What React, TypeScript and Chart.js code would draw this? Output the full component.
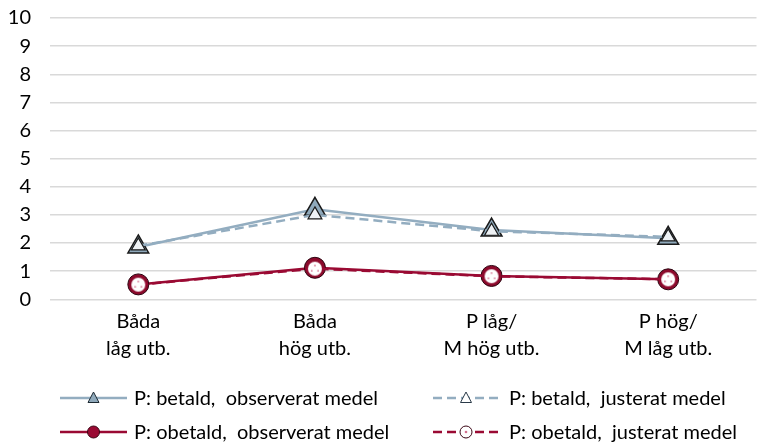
import React, { useEffect, useRef } from 'react';
import { Chart, registerables } from 'chart.js';

Chart.register(...registerables);

const categories: string[][] = [
  ['Båda', 'låg utb.'],
  ['Båda', 'hög utb.'],
  ['P låg/', 'M hög utb.'],
  ['P hög/', 'M låg utb.'],
];
const paidObserved = [1.86, 3.2, 2.46, 2.17];
const paidAdjusted = [1.9, 3.0, 2.42, 2.22];
const unpaidObserved = [0.53, 1.12, 0.83, 0.71];
const unpaidAdjusted = [0.52, 1.09, 0.82, 0.71];
const seriesLabels = [
  'P: betald,  observerat medel',
  'P: betald,  justerat medel',
  'P: obetald,  observerat medel',
  'P: obetald,  justerat medel',
];
const yMin = 0;
const yMax = 10;
const yStep = 1;

const FONT = 'Lato';
const BLUE = '#93adc0';
const RED = '#9a0a33';
const DASH = [9, 5];

function makeDotCircle(r: number): HTMLCanvasElement {
  const c = document.createElement('canvas');
  const s = Math.ceil(r * 2 + 2);
  c.width = s;
  c.height = s;
  const ctx = c.getContext('2d')!;
  const cx = s / 2;
  ctx.beginPath();
  ctx.arc(cx, cx, r, 0, Math.PI * 2);
  ctx.fillStyle = '#ffffff';
  ctx.fill();
  ctx.fillStyle = '#d4708f';
  const dots = [
    [0, -r * 0.45],
    [-r * 0.45, r * 0.3],
    [r * 0.45, r * 0.3],
  ];
  for (const [dx, dy] of dots) {
    ctx.beginPath();
    ctx.arc(cx + dx, cx + dy, Math.max(0.9, r * 0.13), 0, Math.PI * 2);
    ctx.fill();
  }
  return c;
}

const legendPlugin = {
  id: 'customLegend',
  afterDraw(chart: any) {
    const ctx = chart.ctx as CanvasRenderingContext2D;
    const cols = [
      { x0: 60, x1: 127, mx: 93.5, tx: 134 },
      { x0: 433, x1: 499, mx: 466, tx: 509 },
    ];
    const rows = [398, 432];
    const items = [
      { col: 0, row: 0, ds: 0 },
      { col: 1, row: 0, ds: 1 },
      { col: 0, row: 1, ds: 2 },
      { col: 1, row: 1, ds: 3 },
    ];
    ctx.save();
    for (const it of items) {
      const c = cols[it.col];
      const y = rows[it.row];
      const ds = chart.data.datasets[it.ds];
      ctx.strokeStyle = ds.borderColor;
      ctx.lineWidth = 2.5;
      ctx.setLineDash(ds.borderDash || []);
      ctx.beginPath();
      ctx.moveTo(c.x0, y);
      ctx.lineTo(c.x1, y);
      ctx.stroke();
      ctx.setLineDash([]);
      if (it.ds === 0 || it.ds === 1) {
        const h = 10;
        ctx.beginPath();
        ctx.moveTo(c.mx, y - h * 0.6);
        ctx.lineTo(c.mx + h * 0.55, y + h * 0.45);
        ctx.lineTo(c.mx - h * 0.55, y + h * 0.45);
        ctx.closePath();
        ctx.fillStyle = it.ds === 0 ? '#8fa9bb' : '#ffffff';
        ctx.fill();
        ctx.lineWidth = 1;
        ctx.strokeStyle = it.ds === 0 ? '#1d2a33' : '#2a3a48';
        ctx.stroke();
      } else if (it.ds === 2) {
        ctx.beginPath();
        ctx.arc(c.mx, y, 6, 0, Math.PI * 2);
        ctx.fillStyle = RED;
        ctx.fill();
        ctx.lineWidth = 1;
        ctx.strokeStyle = '#3a0514';
        ctx.stroke();
      } else {
        ctx.beginPath();
        ctx.arc(c.mx, y, 6, 0, Math.PI * 2);
        ctx.fillStyle = '#ffffff';
        ctx.fill();
        ctx.lineWidth = 1;
        ctx.strokeStyle = '#3a0514';
        ctx.stroke();
        ctx.beginPath();
        ctx.arc(c.mx, y, 1.3, 0, Math.PI * 2);
        ctx.fillStyle = '#d4708f';
        ctx.fill();
      }
      ctx.fillStyle = '#000000';
      ctx.font = `20px ${FONT}`;
      ctx.textBaseline = 'middle';
      ctx.textAlign = 'left';
      ctx.fillText(ds.label, c.tx, y + 1);
    }
    ctx.restore();
  },
};

export default function App() {
  const ref = useRef<HTMLCanvasElement | null>(null);
  useEffect(() => {
    if (!ref.current) return;
    const dotCircle = makeDotCircle(7);
    const chart = new Chart(ref.current, {
      type: 'line',
      data: {
        labels: categories,
        datasets: [
          {
            label: seriesLabels[0],
            data: paidObserved,
            borderColor: BLUE,
            borderWidth: 2.5,
            pointStyle: 'triangle',
            pointRadius: 12,
            pointBackgroundColor: '#8fa9bb',
            pointBorderColor: '#1b1b1b',
            pointBorderWidth: 1.5,
            order: 2,
          },
          {
            label: seriesLabels[1],
            data: paidAdjusted,
            borderColor: BLUE,
            borderWidth: 2.5,
            borderDash: DASH,
            pointStyle: 'triangle',
            pointRadius: 8,
            pointBackgroundColor: '#eef2f5',
            pointBorderColor: '#1b1b1b',
            pointBorderWidth: 1.2,
            order: 1,
          },
          {
            label: seriesLabels[2],
            data: unpaidObserved,
            borderColor: RED,
            borderWidth: 2.5,
            pointStyle: 'circle',
            pointRadius: 10.5,
            pointBackgroundColor: '#8c0a2c',
            pointBorderColor: '#2b0510',
            pointBorderWidth: 1,
            order: 4,
          },
          {
            label: seriesLabels[3],
            data: unpaidAdjusted,
            borderColor: RED,
            borderWidth: 2.5,
            borderDash: DASH,
            pointStyle: dotCircle as any,
            pointRadius: 7,
            order: 3,
          },
        ],
      },
      options: {
        responsive: false,
        animation: false,
        layout: { padding: { top: 18, right: 0, bottom: 0, left: 0 } },
        plugins: {
          legend: { display: false },
          tooltip: { enabled: false },
        },
        scales: {
          x: {
            offset: true,
            grid: { display: false, drawTicks: false },
            border: { display: false },
            ticks: {
              color: '#000000',
              font: { family: FONT, size: 20, lineHeight: 1.35 },
              padding: 9,
              maxRotation: 0,
            },
            afterFit(scale: any) {
              scale.height = 444 - 299.3;
            },
          },
          y: {
            min: yMin,
            max: yMax,
            grid: {
              color: '#d9d9d9',
              lineWidth: 1.5,
              drawTicks: true,
              tickLength: 19,
              tickColor: 'rgba(0,0,0,0)',
            },
            border: { display: false },
            ticks: {
              stepSize: yStep,
              autoSkip: false,
              color: '#000000',
              font: { family: FONT, size: 20 },
              padding: 0,
            },
            afterFit(scale: any) {
              scale.width = 50;
            },
          },
        },
      },
      plugins: [legendPlugin],
    });
    return () => chart.destroy();
  }, []);
  return (
    <div
      style={{
        position: 'fixed',
        left: 0,
        top: 0,
        width: 762,
        height: 444,
        overflow: 'hidden',
        background: '#fff',
      }}
    >
      <canvas ref={ref} width={770} height={444} style={{ width: 770, height: 444, display: 'block' }} />
    </div>
  );
}
